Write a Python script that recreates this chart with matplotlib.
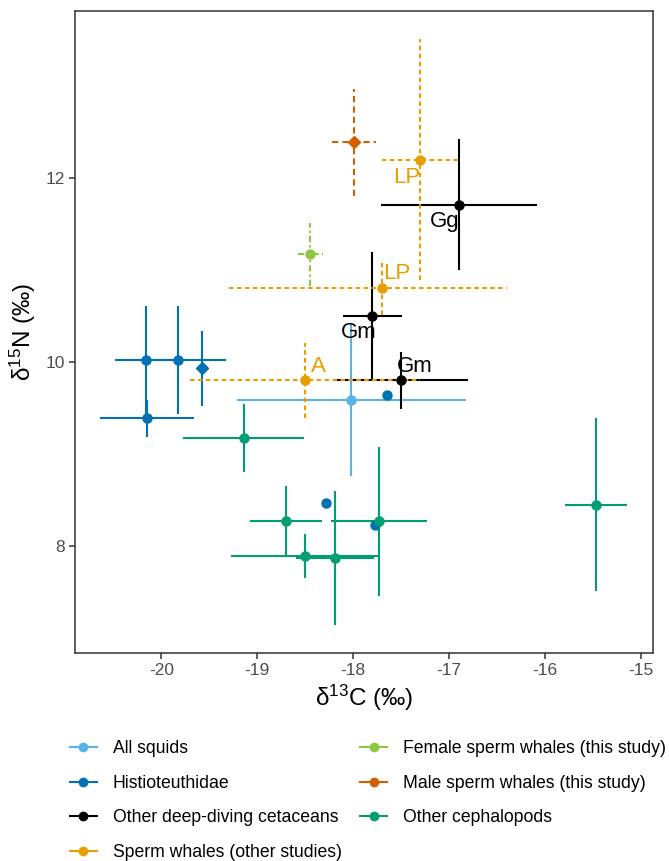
import matplotlib
matplotlib.use("Agg")
import matplotlib.pyplot as plt
from matplotlib.lines import Line2D

plt.rcParams['font.family'] = ['Liberation Sans', 'DejaVu Sans']
plt.rcParams['mathtext.default'] = 'regular'
plt.rcParams['axes.unicode_minus'] = False

# 数据
squid_x = [-18.02]
squid_y = [9.59]
squid_xerr = [1.19]
squid_yerr = [0.83]

histio_x = [-20.16, -19.83, -19.58, -20.15, -18.28, -17.77, -17.65]
histio_y = [10.02, 10.02, 9.93, 9.39, 8.47, 8.23, 9.64]
histio_xerr = [0.32, 0.50, 0.0, 0.49, 0.0, 0.0, 0.0]
histio_yerr = [0.59, 0.59, 0.41, 0.20, 0.0, 0.0, 0.0]

ceta_x = [-16.90, -17.80, -17.50]
ceta_y = [11.71, 10.50, 9.80]
ceta_xerr = [0.81, 0.31, 0.70]
ceta_yerr = [0.71, 0.70, 0.31]
ceta_labels = ['Gg', 'Gm', 'Gm']

sperm_x = [-17.30, -17.70, -18.50]
sperm_y = [12.20, 10.80, 9.80]
sperm_xerr_lo = [0.40, 1.60, 1.20]
sperm_xerr_hi = [0.40, 1.30, 1.20]
sperm_yerr = [1.31, 0.29, 0.41]
sperm_labels = ['LP', 'LP', 'A']

female_x = [-18.45]
female_y = [11.17]
female_xerr = [0.13]
female_yerr = [0.34]

male_x = [-17.99]
male_y = [12.39]
male_xerr = [0.23]
male_yerr = [0.58]

ceph_x = [-19.14, -18.70, -17.73, -18.50, -18.19, -15.47]
ceph_y = [9.17, 8.27, 8.27, 7.89, 7.87, 8.45]
ceph_xerr = [0.63, 0.375, 0.50, 0.77, 0.41, 0.32]
ceph_yerr = [0.37, 0.38, 0.81, 0.24, 0.725, 0.94]

legend_names = ['All squids', 'Histioteuthidae', 'Other deep-diving cetaceans',
                'Sperm whales (other studies)', 'Female sperm whales (this study)',
                'Male sperm whales (this study)', 'Other cephalopods']
colors = ['#56B4E9', '#0072B2', '#000000', '#E69F00', '#8DC63F', '#D55E00', '#009E73']

fig = plt.figure(figsize=(6.69, 8.61), dpi=100)
ax = fig.add_axes([0.1121, 0.2419, 0.8635, 0.7457])

lw = 1.5


def bars(x, y, xerr, yerr, color, ls='-'):
    # 误差线 (无端帽)
    eb = ax.errorbar(x, y, xerr=xerr, yerr=yerr, fmt='none', ecolor=color,
                     elinewidth=lw, capsize=0, zorder=2)
    for lc in eb[2]:
        lc.set_linestyle(ls)


def points(x, y, color, marker='o'):
    ax.plot(x, y, linestyle='none', marker=marker, color=color,
            markersize=6.5 if marker == 'o' else 6, zorder=3)


# 先画误差线
bars(squid_x, squid_y, squid_xerr, squid_yerr, colors[0])
bars(histio_x, histio_y, histio_xerr, histio_yerr, colors[1])
bars(ceta_x, ceta_y, ceta_xerr, ceta_yerr, colors[2])
bars(sperm_x, sperm_y, [sperm_xerr_lo, sperm_xerr_hi], sperm_yerr, colors[3], (0, (2.2, 1.6)))
bars(female_x, female_y, female_xerr, female_yerr, colors[4], (0, (3, 1.5, 1, 1.5)))
bars(male_x, male_y, male_xerr, male_yerr, colors[5], (0, (3, 2)))
bars(ceph_x, ceph_y, ceph_xerr, ceph_yerr, colors[6])

# 再画点
points(squid_x, squid_y, colors[0])
points([v for i, v in enumerate(histio_x) if i != 2], [v for i, v in enumerate(histio_y) if i != 2], colors[1])
points([histio_x[2]], [histio_y[2]], colors[1], 'D')
points(ceta_x, ceta_y, colors[2])
points(sperm_x, sperm_y, colors[3])
points(female_x, female_y, colors[4])
points(male_x, male_y, colors[5], 'D')
points(ceph_x, ceph_y, colors[6])

# 标签
ceta_offsets = [(-10, -12), (-10, -12), (9.5, 10)]
for x, y, t, off in zip(ceta_x, ceta_y, ceta_labels, ceta_offsets):
    ax.annotate(t, (x, y), xytext=off, textcoords='offset points', ha='center', va='center',
                fontsize=16, color='black', zorder=4)
sperm_offsets = [(-10, -12.5), (10.5, 10.5), (9.5, 10)]
for x, y, t, off in zip(sperm_x, sperm_y, sperm_labels, sperm_offsets):
    ax.annotate(t, (x, y), xytext=off, textcoords='offset points', ha='center', va='center',
                fontsize=16, color=colors[3], zorder=4)

ax.set_xlim(-20.90, -14.88)
ax.set_ylim(6.84, 13.82)
ax.set_xticks([-20, -19, -18, -17, -16, -15])
ax.set_yticks([8, 10, 12])
ax.tick_params(labelsize=12.5, labelcolor='#4D4D4D', color='#333333', length=4, width=1.1)
for s in ax.spines.values():
    s.set_color('#333333')
    s.set_linewidth(1.1)

ax.set_xlabel('δ$^{13}$C (‰)', fontsize=17.5, labelpad=3)
ax.set_ylabel('δ$^{15}$N (‰)', fontsize=17.5, labelpad=5)

handles = [Line2D([0], [0], color=c, lw=lw, marker='o', markersize=6) for c in colors]
fig.legend(handles, legend_names, loc='upper left', bbox_to_anchor=(0.104, 0.1403), ncol=2,
           frameon=False, fontsize=12.7, handlelength=1.55, handletextpad=0.9,
           labelspacing=1.0, columnspacing=1.03, borderaxespad=0, borderpad=0)

fig.savefig('out.png', dpi=100)
